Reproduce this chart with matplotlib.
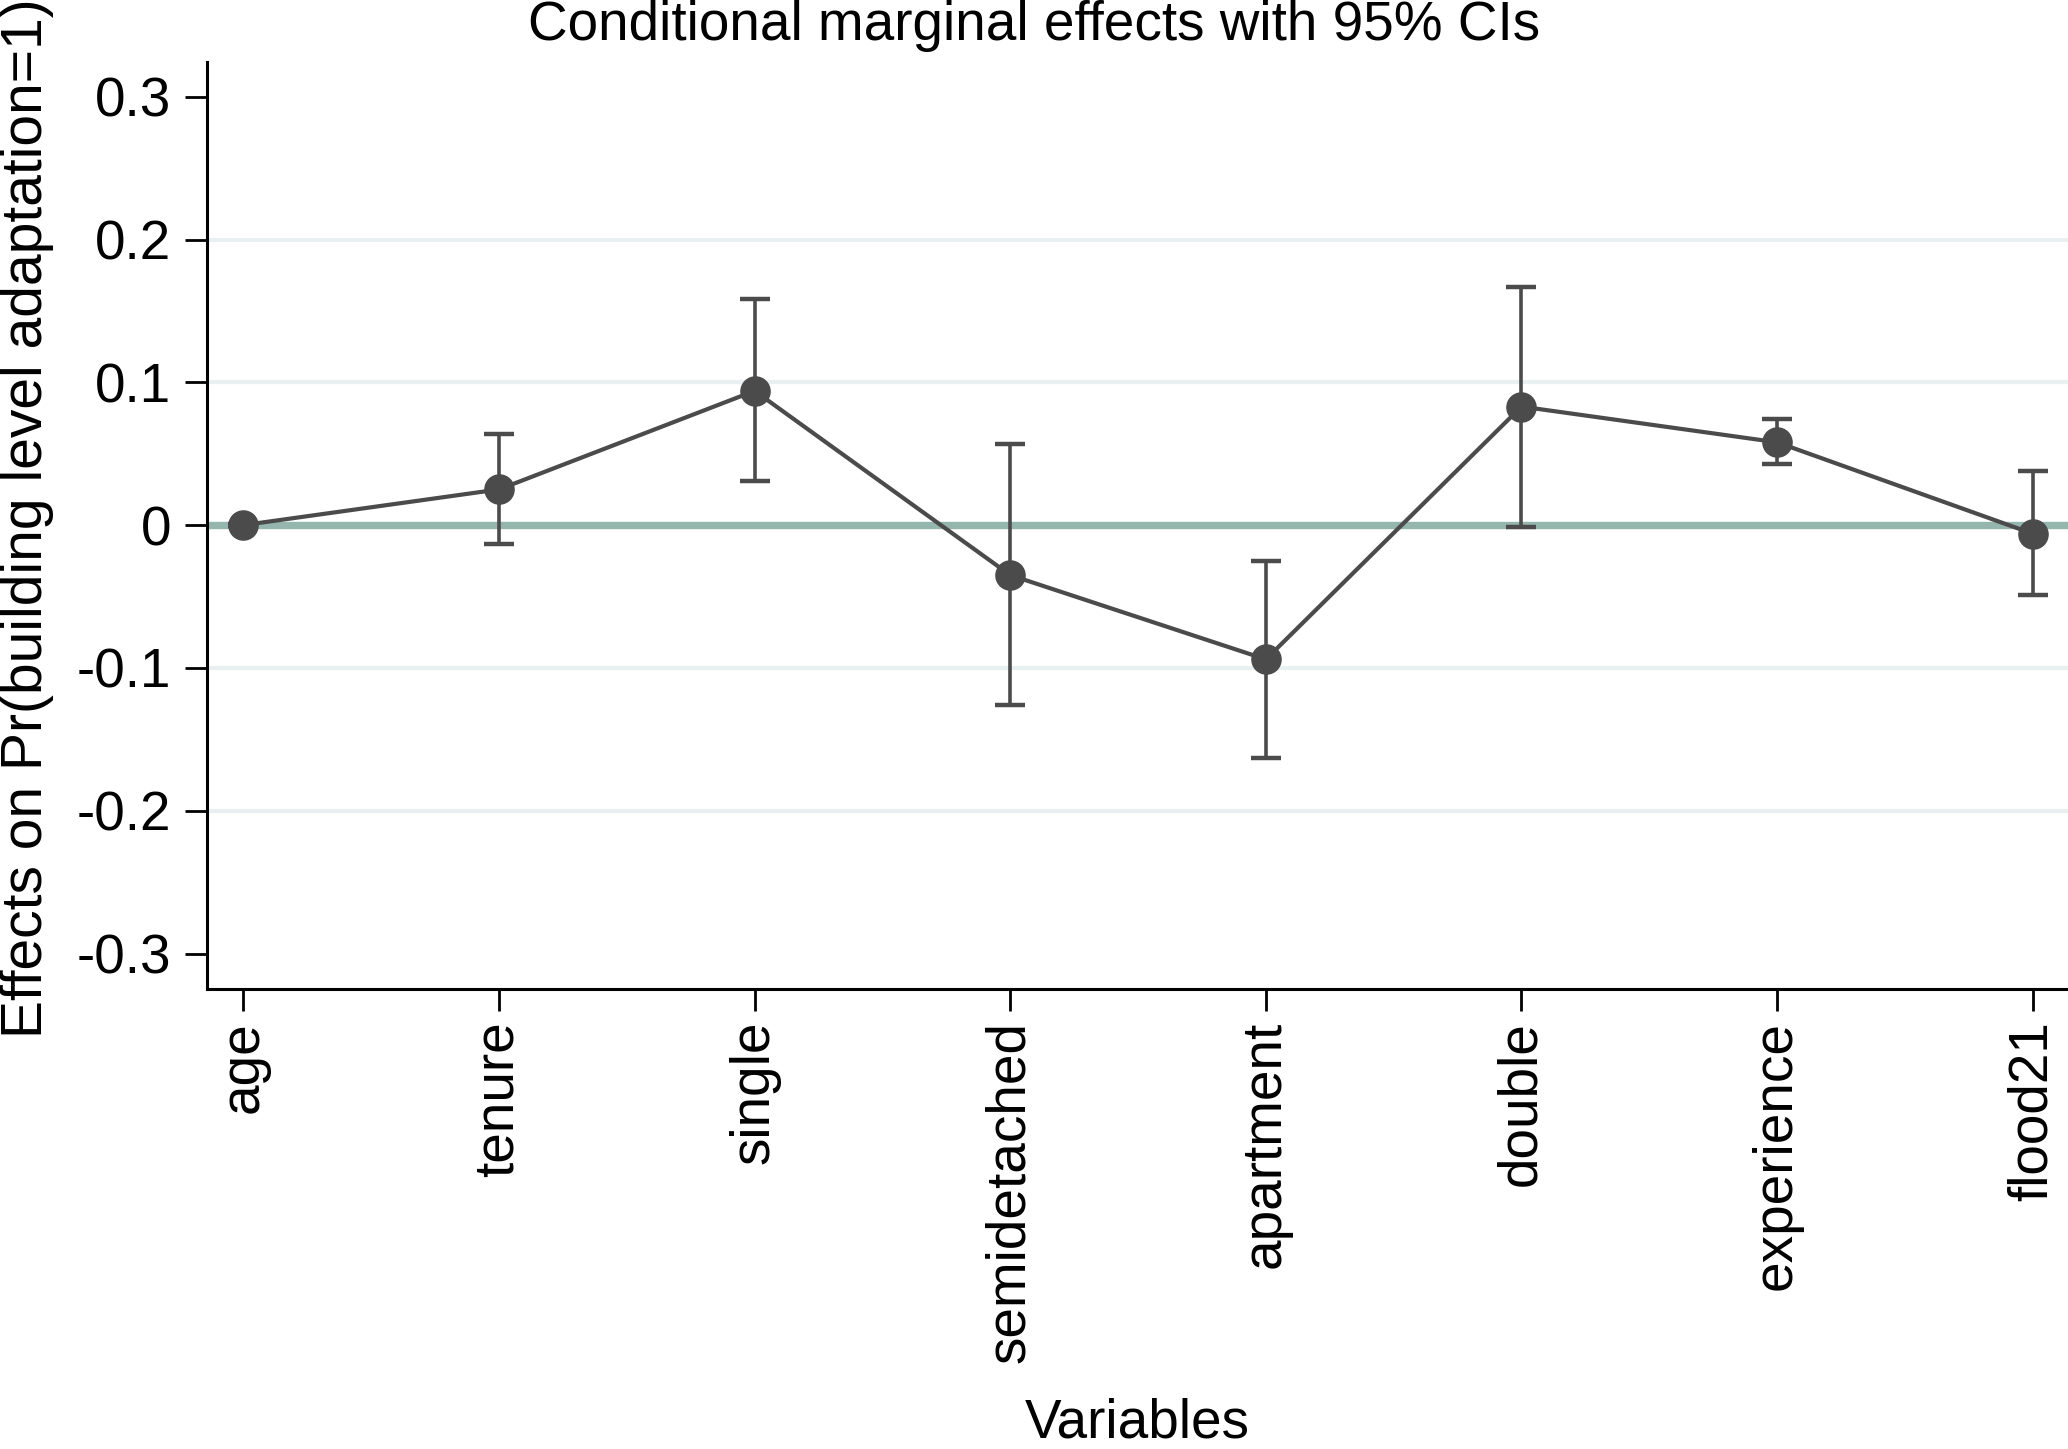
import matplotlib
matplotlib.use("Agg")
import matplotlib.pyplot as plt

# Data
variables = ["age", "tenure", "single", "semidetached", "apartment", "double", "experience", "flood21"]
effects = [0.000, 0.025, 0.094, -0.035, -0.094, 0.083, 0.058, -0.006]
ci_upper = [0.0005, 0.064, 0.158, 0.057, -0.025, 0.167, 0.074, 0.038]
ci_lower = [-0.0005, -0.013, 0.031, -0.126, -0.163, -0.001, 0.043, -0.049]
yticks = [-0.3, -0.2, -0.1, 0, 0.1, 0.2, 0.3]
ytick_labels = ["-0.3", "-0.2", "-0.1", "0", "0.1", "0.2", "0.3"]
grid_vals = [-0.2, -0.1, 0.1, 0.2]

plt.rcParams['font.family'] = ['Liberation Sans', 'DejaVu Sans']
FS = 39.5
dark = '#4b4b4b'

fig = plt.figure(figsize=(20.68, 14.49), dpi=100)
ax = fig.add_axes([0.1002, 0.3173, 0.8998, 0.6401])

x = list(range(len(variables)))

for g in grid_vals:
    ax.axhline(g, color='#e8f0f1', lw=3, zorder=0)
ax.axhline(0, color='#94b6ad', lw=5.3, zorder=1)

yerr_low = [e - l for e, l in zip(effects, ci_lower)]
yerr_up = [u - e for e, u in zip(effects, ci_upper)]
ax.errorbar(x, effects, yerr=[yerr_low, yerr_up], fmt='none', ecolor=dark,
            elinewidth=2.6, capsize=10.5, capthick=3.2, zorder=2)
ax.plot(x, effects, color=dark, lw=3.0, marker='o', markersize=21,
        markerfacecolor=dark, markeredgecolor=dark, zorder=3)

ax.set_xlim(-0.1416, 7.138)
ax.set_ylim(-0.325, 0.3245)
ax.set_yticks(yticks)
ax.set_yticklabels(ytick_labels, fontsize=FS)
ax.set_xticks(x)
ax.set_xticklabels(variables, fontsize=FS, rotation=90)

ax.spines['top'].set_visible(False)
ax.spines['right'].set_visible(False)
for s in ['left', 'bottom']:
    ax.spines[s].set_linewidth(2.2)
    ax.spines[s].set_color('black')
ax.tick_params(axis='both', direction='out', length=15.8, width=2.0, color='black')
ax.tick_params(axis='y', pad=10)
ax.tick_params(axis='x', pad=7)

fig.text(0.5, 1 - 39.5 / 1449, "Conditional marginal effects with 95% CIs",
         fontsize=FS, ha='center', va='baseline')
fig.text((207.3 + 2068) / 2 / 2068, 1 - 1437 / 1449, "Variables",
         fontsize=FS, ha='center', va='baseline')
fig.text(0.0, 1 - 518 / 1449, "Effects on Pr(building level adaptation=1)",
         fontsize=41, ha='left', va='center', rotation=90)

fig.savefig("out.png", dpi=100)
